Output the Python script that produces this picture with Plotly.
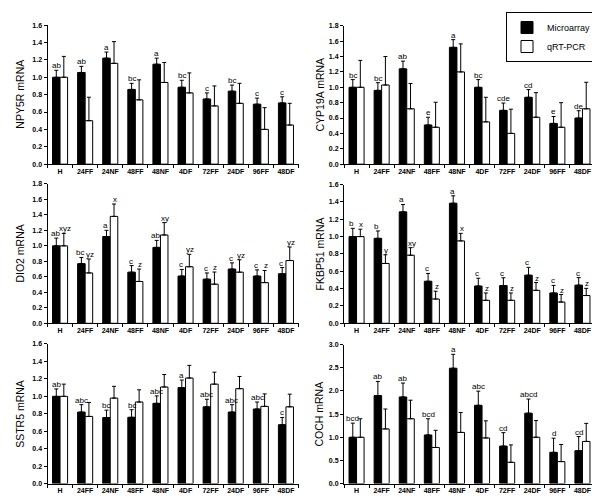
import plotly.graph_objects as go

categories = ["H", "24FF", "24NF", "48FF", "48NF", "4DF", "72FF", "24DF", "96FF", "48DF"]

# NPY5R
npy5r_micro = [1.00, 1.055, 1.22, 0.86, 1.15, 0.885, 0.75, 0.84, 0.69, 0.705]
npy5r_micro_err = [0.08, 0.07, 0.07, 0.07, 0.07, 0.08, 0.07, 0.07, 0.07, 0.07]
npy5r_qpcr = [1.00, 0.50, 1.16, 0.74, 0.94, 0.82, 0.67, 0.70, 0.40, 0.45]
npy5r_qpcr_err = [0.24, 0.27, 0.25, 0.23, 0.23, 0.23, 0.23, 0.23, 0.25, 0.25]
npy5r_letters = ["ab", "ab", "a", "bc", "a", "bc", "c", "bc", "c", "c"]

# CYP19A
cyp19a_micro = [1.00, 0.96, 1.24, 0.51, 1.52, 1.00, 0.70, 0.87, 0.53, 0.60]
cyp19a_micro_err = [0.10, 0.10, 0.10, 0.10, 0.10, 0.10, 0.095, 0.10, 0.09, 0.095]
cyp19a_qpcr = [1.00, 1.03, 0.72, 0.48, 1.20, 0.55, 0.40, 0.61, 0.48, 0.72]
cyp19a_qpcr_err = [0.35, 0.37, 0.33, 0.325, 0.365, 0.32, 0.315, 0.32, 0.32, 0.345]
cyp19a_letters = ["bc", "bc", "ab", "e", "a", "bc", "cde", "cd", "e", "de"]

# DIO2
dio2_micro = [1.00, 0.77, 1.12, 0.66, 0.98, 0.61, 0.57, 0.70, 0.61, 0.64]
dio2_micro_err = [0.10, 0.08, 0.08, 0.085, 0.09, 0.085, 0.08, 0.08, 0.08, 0.08]
dio2_qpcr = [1.00, 0.65, 1.38, 0.54, 1.14, 0.73, 0.505, 0.66, 0.525, 0.81]
dio2_qpcr_err = [0.16, 0.18, 0.16, 0.16, 0.16, 0.16, 0.157, 0.16, 0.157, 0.175]
dio2_letters = ["ab", "bc", "a", "c", "ab", "c", "c", "c", "c", "c"]
dio2_qpcr_letters = ["xyz", "yz", "x", "z", "xy", "yz", "z", "yz", "z", "yz"]

# FKBP51
fkbp51_micro = [1.00, 0.98, 1.285, 0.485, 1.385, 0.43, 0.435, 0.555, 0.35, 0.44]
fkbp51_micro_err = [0.095, 0.085, 0.085, 0.09, 0.085, 0.09, 0.09, 0.09, 0.087, 0.087]
fkbp51_qpcr = [1.00, 0.69, 0.785, 0.28, 0.95, 0.265, 0.265, 0.38, 0.245, 0.32]
fkbp51_qpcr_err = [0.085, 0.10, 0.087, 0.09, 0.087, 0.085, 0.085, 0.09, 0.087, 0.083]
fkbp51_letters = ["b", "b", "a", "c", "a", "c", "c", "c", "c", "c"]
fkbp51_qpcr_letters = ["x", "y", "xy", "z", "x", "z", "z", "z", "z", "z"]

# SSTR5
sstr5_micro = [1.00, 0.82, 0.757, 0.76, 0.92, 1.10, 0.88, 0.82, 0.855, 0.675]
sstr5_micro_err = [0.085, 0.085, 0.085, 0.087, 0.085, 0.087, 0.087, 0.085, 0.08, 0.083]
sstr5_qpcr = [1.00, 0.77, 0.98, 0.935, 1.107, 1.21, 1.14, 1.088, 0.885, 0.88]
sstr5_qpcr_err = [0.14, 0.16, 0.135, 0.14, 0.143, 0.145, 0.137, 0.14, 0.143, 0.145]
sstr5_letters = ["ab", "abc", "bc", "bc", "abc", "a", "abc", "abc", "abc", "c"]

# COCH
coch_micro = [1.00, 1.90, 1.87, 1.05, 2.49, 1.69, 0.81, 1.52, 0.675, 0.71]
coch_micro_err = [0.305, 0.305, 0.30, 0.35, 0.30, 0.305, 0.29, 0.305, 0.305, 0.305]
coch_qpcr = [1.00, 1.18, 1.40, 0.78, 1.105, 0.985, 0.46, 1.00, 0.475, 0.91]
coch_qpcr_err = [0.40, 0.43, 0.40, 0.37, 0.43, 0.37, 0.375, 0.36, 0.37, 0.39]
coch_letters = ["bcd", "ab", "ab", "bcd", "a", "abc", "cd", "abcd", "d", "cd"]

panels = [
    dict(title="NPY5R mRNA", micro=npy5r_micro, micro_err=npy5r_micro_err, qpcr=npy5r_qpcr,
         qpcr_err=npy5r_qpcr_err, ml=npy5r_letters, ql=None, ymax=1.6, dtick=0.2),
    dict(title="CYP19A mRNA", micro=cyp19a_micro, micro_err=cyp19a_micro_err, qpcr=cyp19a_qpcr,
         qpcr_err=cyp19a_qpcr_err, ml=cyp19a_letters, ql=None, ymax=1.8, dtick=0.2),
    dict(title="DIO2 mRNA", micro=dio2_micro, micro_err=dio2_micro_err, qpcr=dio2_qpcr,
         qpcr_err=dio2_qpcr_err, ml=dio2_letters, ql=dio2_qpcr_letters, ymax=1.8, dtick=0.2),
    dict(title="FKBP51 mRNA", micro=fkbp51_micro, micro_err=fkbp51_micro_err, qpcr=fkbp51_qpcr,
         qpcr_err=fkbp51_qpcr_err, ml=fkbp51_letters, ql=fkbp51_qpcr_letters, ymax=1.6, dtick=0.2),
    dict(title="SSTR5 mRNA", micro=sstr5_micro, micro_err=sstr5_micro_err, qpcr=sstr5_qpcr,
         qpcr_err=sstr5_qpcr_err, ml=sstr5_letters, ql=None, ymax=1.6, dtick=0.2),
    dict(title="COCH mRNA", micro=coch_micro, micro_err=coch_micro_err, qpcr=coch_qpcr,
         qpcr_err=coch_qpcr_err, ml=coch_letters, ql=None, ymax=3.0, dtick=0.5),
]

W, H = 600, 501
x_domains = [[39.5 / W, 290.5 / W], [336 / W, 587 / W]]
y_domains_px = [
    [(154.3, 13.3), (154.3, 14.0)],
    [(315.7, 174.3), (315.7, 175.0)],
    [(478.3, 336.7), (478.3, 337.3)],
]
title_x_px = [12, 311.5]

FONT = "Liberation Sans, Arial, Helvetica, sans-serif"
BARGAP = 0.4
off = (1 - BARGAP) / 4

fig = go.Figure()
layout = dict(width=W, height=H, margin=dict(l=0, r=0, t=0, b=0),
              paper_bgcolor="white", plot_bgcolor="white",
              barmode="group", bargap=BARGAP, bargroupgap=0,
              font=dict(family=FONT, color="black"))
annotations = []

for k, p in enumerate(panels):
    row, col = divmod(k, 2)
    sfx = "" if k == 0 else str(k + 1)
    xa, ya = "x" + sfx, "y" + sfx
    fig.add_trace(go.Bar(
        x=categories, y=p["micro"], name="Microarray", xaxis=xa, yaxis=ya,
        marker=dict(color="black", line=dict(color="black", width=1)),
        error_y=dict(type="data", array=p["micro_err"], symmetric=False,
                     arrayminus=[0] * len(categories), color="black", thickness=1, width=2),
        showlegend=(k == 0), legendgroup="m"))
    fig.add_trace(go.Bar(
        x=categories, y=p["qpcr"], name="qRT-PCR", xaxis=xa, yaxis=ya,
        marker=dict(color="white", line=dict(color="black", width=1)),
        error_y=dict(type="data", array=p["qpcr_err"], symmetric=False,
                     arrayminus=[0] * len(categories), color="black", thickness=1, width=2),
        showlegend=(k == 0), legendgroup="q"))

    ybot, ytop = y_domains_px[row][col]
    layout["xaxis" + sfx] = dict(
        domain=x_domains[col], anchor=ya, type="category",
        showline=True, linecolor="black", linewidth=1, tickangle=0,
        ticks="outside", ticklen=3, tickcolor="black", tickson="boundaries",
        tickfont=dict(size=7, weight="bold", family=FONT, color="black"),
        showgrid=False, zeroline=False)
    layout["yaxis" + sfx] = dict(
        domain=[1 - ybot / H, 1 - ytop / H], anchor=xa,
        range=[0, p["ymax"]], dtick=p["dtick"], tick0=0, tickformat=".1f",
        showline=True, linecolor="black", linewidth=1,
        ticks="outside", ticklen=3, tickcolor="black",
        tickfont=dict(size=7, weight="bold", family=FONT, color="black"),
        showgrid=False, zeroline=False)

    annotations.append(dict(
        text=p["title"], textangle=-90, xref="paper", yref="paper",
        x=title_x_px[col] / W, y=1 - (ybot + ytop) / 2 / H,
        xanchor="center", yanchor="middle", showarrow=False,
        font=dict(size=10.5, family=FONT, color="black")))

    shift = 1 if p["ql"] else 0
    for i in range(len(categories)):
        annotations.append(dict(
            text=p["ml"][i], xref=xa, yref=ya, x=i - off,
            y=p["micro"][i] + p["micro_err"][i], yanchor="bottom", xanchor="center",
            showarrow=False, font=dict(size=8, family=FONT, color="black"),
            borderpad=0, yshift=-1, xshift=-shift))
        if p["ql"]:
            annotations.append(dict(
                text=p["ql"][i], xref=xa, yref=ya, x=i + off,
                y=p["qpcr"][i] + p["qpcr_err"][i], yanchor="bottom", xanchor="center",
                showarrow=False, font=dict(size=8, family=FONT, color="black"),
                borderpad=0, yshift=-1, xshift=shift))

layout["annotations"] = annotations
layout["legend"] = dict(x=498 / W, y=1.0, xanchor="left", yanchor="top",
                        bordercolor="black", borderwidth=1, bgcolor="white",
                        font=dict(size=9, family=FONT, color="black"), tracegroupgap=0,
                        traceorder="normal")
fig.update_layout(**layout)
fig.write_html("out.html")
